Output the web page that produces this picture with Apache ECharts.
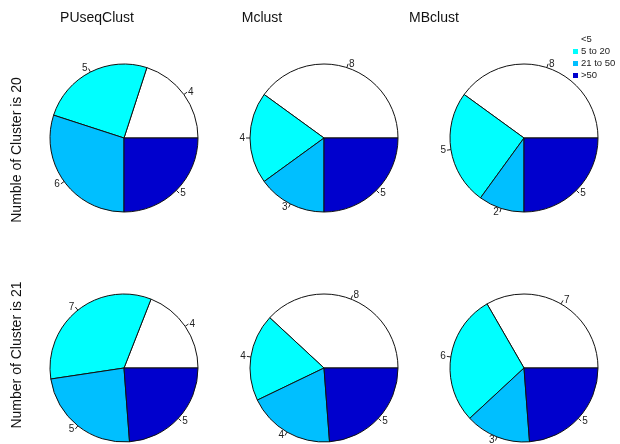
<!DOCTYPE html>
<html>
<head>
<meta charset="utf-8">
<script src="https://cdn.jsdelivr.net/npm/echarts@6/dist/echarts.min.js"></script>
<style>
  html, body { margin: 0; padding: 0; background: #fff; }
  #chart { width: 620px; height: 444px; }
</style>
</head>
<body>
<div id="chart"></div>
<script>
var categories = ['<5', '5 to 20', '21 to 50', '>50']
var colors = ['#ffffff', '#00ffff', '#00bfff', '#0000cd']
var methods = ['PUseqClust', 'Mclust', 'MBclust']
var rowLabels = ['Numble of Cluster is 20', 'Number of Cluster is 21']

// counts per category, one array per pie
var puseq20 = [4, 5, 6, 5]
var mclust20 = [8, 4, 3, 5]
var mbclust20 = [8, 5, 2, 5]
var puseq21 = [4, 7, 5, 5]
var mclust21 = [8, 4, 4, 5]
var mbclust21 = [7, 6, 3, 5]

var grid = [
  [puseq20, mclust20, mbclust20],
  [puseq21, mclust21, mbclust21]
]

var colX = [124, 324, 524]
var rowY = [138, 368]
var titleX = [97, 262, 434]

var font = 'Liberation Sans, Arial, sans-serif'

var series = []
grid.forEach(function (row, r) {
  row.forEach(function (vals, c) {
    series.push({
      type: 'pie',
      name: methods[c] + ' ' + r,
      center: [colX[c], rowY[r]],
      radius: 74,
      startAngle: 0,
      clockwise: false,
      avoidLabelOverlap: false,
      silent: true,
      itemStyle: { borderColor: '#111', borderWidth: 1 },
      label: {
        show: true,
        position: 'outside',
        formatter: '{c}',
        fontFamily: font,
        fontSize: 10,
        color: '#222',
        distanceToLabelLine: 1
      },
      labelLine: {
        show: true,
        length: 4,
        length2: 0,
        lineStyle: { color: '#222', width: 1 }
      },
      data: vals.map(function (v, i) {
        return { name: categories[i], value: v, itemStyle: { color: colors[i] } }
      })
    })
  })
})

var graphics = []
methods.forEach(function (m, i) {
  graphics.push({
    type: 'text',
    x: titleX[i],
    y: 18,
    style: {
      text: m, fontFamily: font, fontSize: 14, fill: '#111',
      textAlign: 'center', textVerticalAlign: 'middle'
    }
  })
})
var rowCenters = [150, 355]
rowLabels.forEach(function (t, i) {
  graphics.push({
    type: 'text',
    x: 17,
    y: rowCenters[i],
    rotation: Math.PI / 2,
    style: {
      text: t, fontFamily: font, fontSize: 14, fill: '#111',
      textAlign: 'center', textVerticalAlign: 'middle'
    }
  })
})

var chart = echarts.init(document.getElementById('chart'))
chart.setOption({
  animation: false,
  backgroundColor: '#fff',
  color: colors,
  legend: {
    orient: 'vertical',
    left: 568,
    top: 29,
    data: categories,
    icon: 'rect',
    itemWidth: 5,
    itemHeight: 5,
    itemGap: 1,
    selectedMode: false,
    itemStyle: { borderWidth: 0 },
    textStyle: { fontFamily: font, fontSize: 9.5, lineHeight: 11, color: '#222', padding: [0, 0, 0, -2] }
  },
  graphic: graphics,
  series: series
})
</script>
</body>
</html>
